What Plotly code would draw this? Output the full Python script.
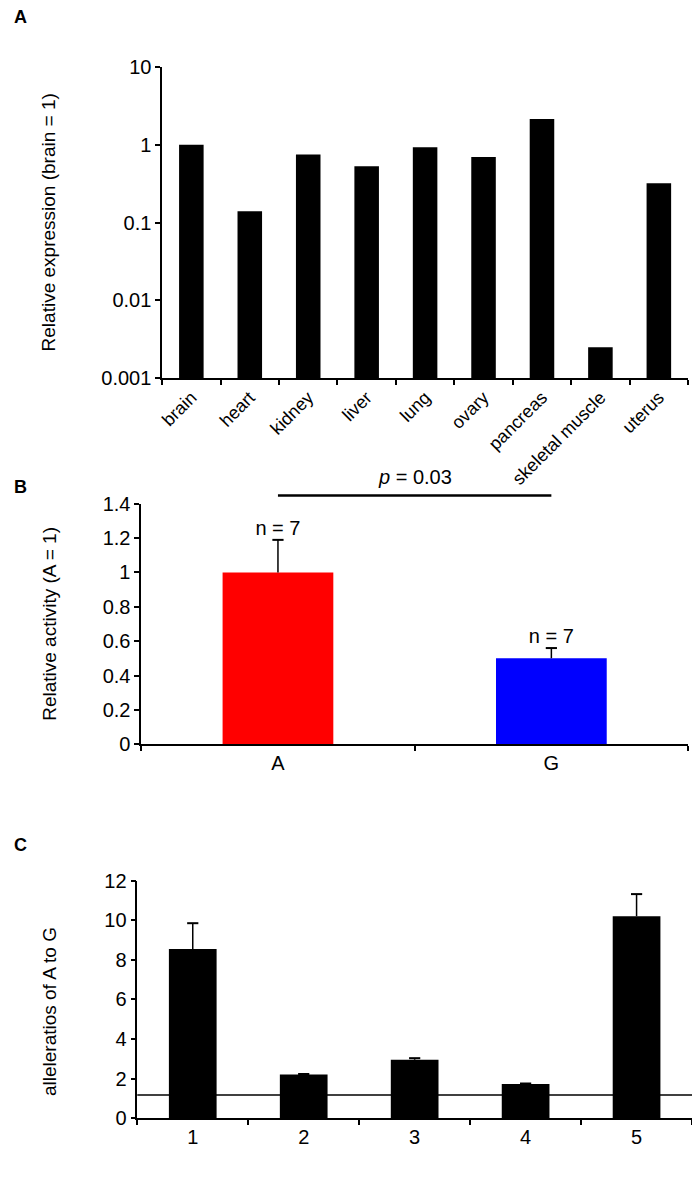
import plotly.graph_objects as go

# Panel A - tissue expression
tissues = ['brain', 'heart', 'kidney', 'liver', 'lung', 'ovary', 'pancreas', 'skeletal muscle', 'uterus']
expression = [1.0, 0.14, 0.75, 0.53, 0.93, 0.70, 2.15, 0.0025, 0.32]

# Panel B - relative activity
alleles = ['A', 'G']
activity = [1.0, 0.5]
activity_err = [0.19, 0.06]
n_labels = ['n = 7', 'n = 7']

# Panel C - allele ratios
samples = ['1', '2', '3', '4', '5']
ratios = [8.55, 2.2, 2.95, 1.72, 10.2]
ratios_err = [1.3, 0.03, 0.08, 0.03, 1.12]
ratio_ref = 1.17

# page body has an 8px margin, so the figure is drawn 8px in
OFF = 8
W, H = 700 - OFF, 1189 - OFF
FONT = 'Liberation Sans, Arial, sans-serif'


def px(x0, x1):
    return [(x0 - OFF) / W, (x1 - OFF) / W]


def py(top, bottom):
    return [1 - (bottom - OFF) / H, 1 - (top - OFF) / H]


fig = go.Figure()

fig.add_trace(go.Bar(x=tissues, y=expression, marker=dict(color='black', line=dict(width=0)),
                     width=0.42, xaxis='x', yaxis='y', showlegend=False))


def err_bars(cats, vals, errs, xa, ya):
    # upper whisker only, cap at the top end
    tops = [v + e for v, e in zip(vals, errs)]
    fig.add_trace(go.Scatter(x=cats, y=tops, mode='markers', xaxis=xa, yaxis=ya, showlegend=False,
                             marker=dict(symbol='line-ew-open', size=8, color='black',
                                         line=dict(width=2, color='black')),
                             error_y=dict(type='data', array=[0] * len(vals), arrayminus=errs,
                                          symmetric=False, color='black', thickness=1.5, width=0),
                             cliponaxis=False))


fig.add_trace(go.Bar(x=alleles, y=activity, marker=dict(color=['#ff0000', '#0000ff'], line=dict(width=0)),
                     width=0.405, xaxis='x2', yaxis='y2', showlegend=False))
err_bars(alleles, activity, activity_err, 'x2', 'y2')

fig.add_trace(go.Scatter(x=alleles, y=[a + e for a, e in zip(activity, activity_err)],
                         mode='text', text=n_labels, textposition='top center',
                         textfont=dict(size=20, color='black', family=FONT),
                         xaxis='x2', yaxis='y2', showlegend=False, cliponaxis=False))

fig.add_trace(go.Bar(x=samples, y=ratios, marker=dict(color='black', line=dict(width=0)),
                     width=0.43, xaxis='x3', yaxis='y3', showlegend=False))
err_bars(samples, ratios, ratios_err, 'x3', 'y3')

axis_common = dict(showline=True, linecolor='black', linewidth=1.5, ticks='outside',
                   tickcolor='black', tickwidth=1.5, ticklen=5, showgrid=False, zeroline=False,
                   tickfont=dict(size=20, color='black', family=FONT))

fig.update_layout(
    width=W, height=H, margin=dict(l=0, r=0, t=0, b=0),
    plot_bgcolor='white', paper_bgcolor='white',
    font=dict(family=FONT, color='black'),
    xaxis=dict(domain=px(159, 688), anchor='y', tickangle=-45, tickson='boundaries',
               **{**axis_common, 'tickfont': dict(size=18, color='black', family=FONT)}),
    yaxis=dict(domain=py(57, 374), anchor='x', type='log', range=[-3, 1],
               tickvals=[0.001, 0.01, 0.1, 1, 10], ticktext=['0.001', '0.01', '0.1', '1', '10'],
               **axis_common),
    xaxis2=dict(domain=px(138, 688), anchor='y2', tickson='boundaries', **axis_common),
    yaxis2=dict(domain=py(502, 747), anchor='x2', range=[0, 1.4], dtick=0.2, tickformat='~g',
                **axis_common),
    xaxis3=dict(domain=px(134, 692), anchor='y3', tickson='boundaries', **axis_common),
    yaxis3=dict(domain=py(886, 1128), anchor='x3', range=[0, 12], dtick=2, **axis_common),
)

# reference line in panel C
fig.add_shape(type='line', xref='x3 domain', yref='y3', x0=0, x1=1.01, y0=ratio_ref, y1=ratio_ref,
              line=dict(color='black', width=1.5))

# significance bar in panel B (above the plot area)
fig.add_shape(type='line', xref='x2 domain', yref='y2 domain', x0=0.25, x1=0.75, y0=1.034, y1=1.034,
              line=dict(color='black', width=2.5))
fig.add_annotation(xref='x2 domain', yref='y2 domain', x=0.5, y=1.11, showarrow=False,
                   xanchor='center', yanchor='middle',
                   text='<i>p</i> = 0.03', font=dict(size=20))

# panel letters
for letter, ya, yv in [('A', 'y domain', 1.16), ('B', 'y2 domain', 1.07), ('C', 'y3 domain', 1.15)]:
    fig.add_annotation(xref='paper', yref=ya, x=0, y=yv, text='<b>' + letter + '</b>', showarrow=False,
                       xanchor='left', yanchor='middle', font=dict(size=18))

# y titles
for title, ya, yv in [('Relative expression (brain = 1)', 'y domain', 0.5),
                      ('Relative activity (A = 1)', 'y2 domain', 0.5),
                      ('alleleratios of A to G', 'y3 domain', 0.45)]:
    fig.add_annotation(xref='paper', yref=ya, x=(45 - OFF) / W, y=yv, text=title, textangle=-90,
                       showarrow=False, xanchor='center', yanchor='middle', font=dict(size=19))

fig.write_html('out.html')
